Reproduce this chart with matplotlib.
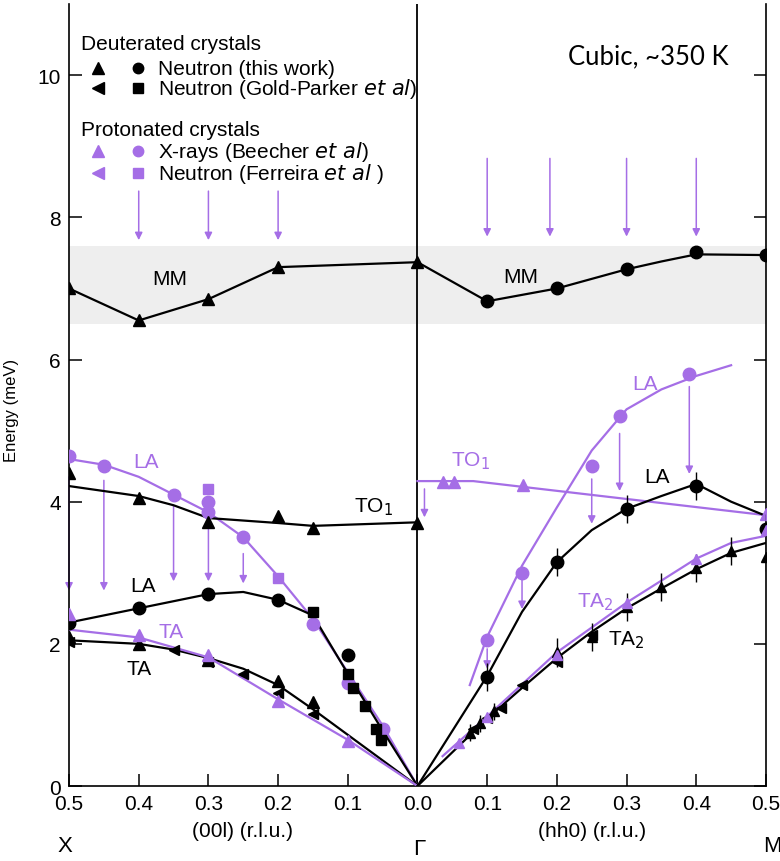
import matplotlib
matplotlib.use("Agg")
import matplotlib.pyplot as plt
import numpy as np
from matplotlib import font_manager

PURPLE = "#a56ee6"
BLACK = "black"

# ---------------- data (x<0 : (00l) branch, x>0 : (hh0) branch) ----------------
mm_left_x = [-0.5, -0.4, -0.3, -0.2, 0.0]
mm_left_y = [7.0, 6.55, 6.85, 7.3, 7.37]
mm_right_x = [0.1, 0.2, 0.3, 0.4, 0.5]
mm_right_y = [6.82, 7.0, 7.28, 7.52, 7.47]
mm_line_right_x = [0.0, 0.1, 0.2, 0.3, 0.35, 0.4, 0.5]
mm_line_right_y = [7.37, 6.82, 7.0, 7.27, 7.38, 7.48, 7.47]

top_arrow_left_x = [-0.4, -0.3, -0.2]
top_arrow_left_y = (8.37, 7.68)
top_arrow_right_x = [0.1, 0.19, 0.3, 0.4]
top_arrow_right_y = (8.83, 7.73)

# left branch
la_p_left_x = [-0.5, -0.45, -0.35, -0.3, -0.3, -0.25, -0.15, -0.1, -0.05]
la_p_left_y = [4.65, 4.5, 4.1, 4.0, 3.85, 3.5, 2.28, 1.45, 0.8]
la_p_sq_x = [-0.3, -0.2]
la_p_sq_y = [4.18, 2.92]
la_p_line_left_x = [-0.5, -0.45, -0.4, -0.35, -0.3, -0.25, -0.2, -0.15, -0.1, -0.05, 0.0]
la_p_line_left_y = [4.6, 4.52, 4.35, 4.1, 3.85, 3.5, 2.95, 2.35, 1.6, 0.85, 0.0]

to1_left_x = [-0.5, -0.4, -0.3, -0.2, -0.15, 0.0]
to1_left_y = [4.4, 4.05, 3.72, 3.8, 3.63, 3.7]
to1_line_left_x = [-0.5, -0.4, -0.35, -0.3, -0.2, -0.15, 0.0]
to1_line_left_y = [4.22, 4.08, 3.95, 3.77, 3.7, 3.66, 3.71]

la_left_x = [-0.5, -0.4, -0.3, -0.2, -0.1]
la_left_y = [2.3, 2.5, 2.7, 2.62, 1.85]
la_line_left_x = [-0.5, -0.4, -0.3, -0.25, -0.2, -0.15, -0.1, -0.05, 0.0]
la_line_left_y = [2.3, 2.5, 2.7, 2.73, 2.62, 2.4, 1.58, 0.78, 0.0]

gp_sq_x = [-0.15, -0.1, -0.092, -0.076, -0.059, -0.052]
gp_sq_y = [2.45, 1.58, 1.38, 1.12, 0.8, 0.65]

ta_left_x = [-0.5, -0.4, -0.3, -0.2, -0.15]
ta_left_y = [2.1, 2.0, 1.77, 1.48, 1.18]
gp_lt_left_x = [-0.5, -0.35, -0.3, -0.25, -0.2, -0.15]
gp_lt_left_y = [2.03, 1.92, 1.75, 1.58, 1.31, 1.01]
ta_line_left_x = [-0.5, -0.4, -0.35, -0.3, -0.25, -0.2, -0.15, -0.1, 0.0]
ta_line_left_y = [2.05, 2.0, 1.92, 1.8, 1.65, 1.42, 1.08, 0.72, 0.0]

ta_p_left_x = [-0.5, -0.4, -0.3, -0.2, -0.1]
ta_p_left_y = [2.42, 2.12, 1.85, 1.2, 0.63]
ta_p_line_left_x = [-0.5, -0.4, -0.3, -0.2, -0.1, 0.0]
ta_p_line_left_y = [2.2, 2.09, 1.81, 1.22, 0.65, 0.0]

arrow_left_x = [-0.5, -0.45, -0.35, -0.3, -0.25]
arrow_left_start = [4.35, 4.3, 3.94, 3.66, 3.27]
arrow_left_end = [2.75, 2.75, 2.88, 2.88, 2.85]

# right branch
to1_p_right_x = [0.037, 0.052, 0.152, 0.5]
to1_p_right_y = [4.28, 4.28, 4.23, 3.82]
to1_p_line_x = [0.0, 0.08, 0.5]
to1_p_line_y = [4.29, 4.29, 3.81]
to1_arrow_x = [0.01]
to1_arrow_start = [4.18]
to1_arrow_end = [3.78]

la_p_right_x = [0.1, 0.15, 0.25, 0.29, 0.39]
la_p_right_y = [2.05, 3.0, 4.5, 5.2, 5.8]
la_p_line_right_x = [0.075, 0.1, 0.15, 0.2, 0.25, 0.3, 0.35, 0.4, 0.45]
la_p_line_right_y = [1.42, 2.1, 3.1, 3.92, 4.72, 5.3, 5.58, 5.77, 5.92]
arrow_right_x = [0.1, 0.15, 0.25, 0.29, 0.39]
arrow_right_start = [1.93, 2.92, 4.32, 4.96, 5.62]
arrow_right_end = [1.65, 2.49, 3.69, 4.15, 4.39]

la_right_x = [0.1, 0.2, 0.3, 0.4, 0.5]
la_right_y = [1.53, 3.15, 3.9, 4.22, 3.62]
la_right_err = [0.2, 0.2, 0.2, 0.2, 0.2]
la_line_right_x = [0.0, 0.1, 0.15, 0.2, 0.25, 0.3, 0.35, 0.4, 0.45, 0.5]
la_line_right_y = [0.0, 1.55, 2.45, 3.15, 3.6, 3.9, 4.08, 4.25, 4.0, 3.8]

ta2_right_x = [0.075, 0.09, 0.11, 0.2, 0.25, 0.3, 0.35, 0.4, 0.45, 0.5]
ta2_right_y = [0.75, 0.88, 1.05, 1.88, 2.1, 2.52, 2.8, 3.07, 3.31, 3.22]
ta2_right_err = [0.12, 0.12, 0.12, 0.2, 0.2, 0.2, 0.2, 0.2, 0.2, 0.2]
gp_lt_right_x = [0.08, 0.1, 0.12, 0.15, 0.2, 0.25]
gp_lt_right_y = [0.8, 0.95, 1.1, 1.42, 1.75, 2.12]
ta2_line_x = [0.0, 0.1, 0.15, 0.2, 0.25, 0.3, 0.35, 0.4, 0.45, 0.5]
ta2_line_y = [0.0, 0.95, 1.38, 1.8, 2.17, 2.5, 2.78, 3.05, 3.28, 3.42]

ta2_p_x = [0.06, 0.1, 0.2, 0.3, 0.4, 0.5]
ta2_p_y = [0.6, 0.97, 1.85, 2.57, 3.2, 3.6]
ta2_p_line_x = [0.036, 0.1, 0.2, 0.3, 0.4, 0.45, 0.5]
ta2_p_line_y = [0.42, 0.98, 1.88, 2.58, 3.2, 3.42, 3.52]

x_ticks = [-0.5, -0.4, -0.3, -0.2, -0.1, 0.0, 0.1, 0.2, 0.3, 0.4, 0.5]
x_ticklabels = ["0.5", "0.4", "0.3", "0.2", "0.1", "0.0", "0.1", "0.2", "0.3", "0.4", "0.5"]
y_ticks = [0, 2, 4, 6, 8, 10]
band = (6.5, 7.6)

# ---------------- fonts ----------------
avail = {f.name for f in font_manager.fontManager.ttflist}
narrow = "Liberation Sans Narrow" if "Liberation Sans Narrow" in avail else "Liberation Sans"
plt.rcParams["font.family"] = ["Liberation Sans", "DejaVu Sans"]

fig = plt.figure(figsize=(7.8, 8.62), dpi=100)
ax = fig.add_axes([0.0885, 0.087, 0.8935, 0.907])
ax.set_xlim(-0.5, 0.5)
ax.set_ylim(0, 11)

ax.axhspan(band[0], band[1], color="#eeeeee", zorder=0, lw=0)
ax.axvline(0, color="black", lw=1.3, zorder=1)

LW = 1.6
MS = 9

def arrows(xs, y0s, y1s):
    for x, a, b in zip(xs, y0s, y1s):
        ax.annotate("", xy=(x, b), xytext=(x, a),
                    arrowprops=dict(arrowstyle="-|>", color=PURPLE, lw=1.1,
                                    mutation_scale=11, shrinkA=0, shrinkB=0), zorder=2)

# MM
ax.plot(mm_left_x, mm_left_y, color=BLACK, lw=LW, zorder=3)
ax.plot(mm_left_x, mm_left_y, "^", color=BLACK, ms=MS, zorder=4)
ax.plot(mm_line_right_x, mm_line_right_y, color=BLACK, lw=LW, zorder=3)
ax.plot(mm_right_x, mm_right_y, "o", color=BLACK, ms=MS, zorder=4)
arrows(top_arrow_left_x, [top_arrow_left_y[0]] * 3, [top_arrow_left_y[1]] * 3)
arrows(top_arrow_right_x, [top_arrow_right_y[0]] * 4, [top_arrow_right_y[1]] * 4)

# left lines
ax.plot(la_p_line_left_x, la_p_line_left_y, color=PURPLE, lw=LW, zorder=3)
ax.plot(to1_line_left_x, to1_line_left_y, color=BLACK, lw=LW, zorder=3)
ax.plot(la_line_left_x, la_line_left_y, color=BLACK, lw=LW, zorder=3)
ax.plot(ta_line_left_x, ta_line_left_y, color=BLACK, lw=LW, zorder=3)
ax.plot(ta_p_line_left_x, ta_p_line_left_y, color=PURPLE, lw=LW, zorder=3)
arrows(arrow_left_x, arrow_left_start, arrow_left_end)

ax.plot(la_p_left_x, la_p_left_y, "o", color=PURPLE, ms=MS, zorder=4)
ax.plot(la_p_sq_x, la_p_sq_y, "s", color=PURPLE, ms=7.5, zorder=4)
ax.plot(to1_left_x, to1_left_y, "^", color=BLACK, ms=MS, zorder=4)
ax.plot(la_left_x, la_left_y, "o", color=BLACK, ms=MS, zorder=4)
ax.plot(gp_sq_x, gp_sq_y, "s", color=BLACK, ms=7.5, zorder=4)
ax.plot(ta_left_x, ta_left_y, "^", color=BLACK, ms=MS, zorder=4)
ax.plot(gp_lt_left_x, gp_lt_left_y, "<", color=BLACK, ms=7.5, zorder=4)
ax.plot(ta_p_left_x, ta_p_left_y, "^", color=PURPLE, ms=MS, zorder=5)

# right lines
ax.plot(to1_p_line_x, to1_p_line_y, color=PURPLE, lw=LW, zorder=3)
ax.plot(la_p_line_right_x, la_p_line_right_y, color=PURPLE, lw=LW, zorder=3)
ax.plot(la_line_right_x, la_line_right_y, color=BLACK, lw=LW, zorder=3)
ax.plot(ta2_line_x, ta2_line_y, color=BLACK, lw=LW, zorder=3)
ax.plot(ta2_p_line_x, ta2_p_line_y, color=PURPLE, lw=LW, zorder=3)
arrows(to1_arrow_x, to1_arrow_start, to1_arrow_end)
arrows(arrow_right_x, arrow_right_start, arrow_right_end)

ax.plot(to1_p_right_x, to1_p_right_y, "^", color=PURPLE, ms=MS, zorder=4)
ax.plot(la_p_right_x, la_p_right_y, "o", color=PURPLE, ms=MS, zorder=4)
ax.errorbar(la_right_x, la_right_y, yerr=la_right_err, fmt="o", color=BLACK, ms=MS,
            elinewidth=1.0, capsize=0, zorder=4)
ax.errorbar(ta2_right_x, ta2_right_y, yerr=ta2_right_err, fmt="^", color=BLACK, ms=7.5,
            elinewidth=1.0, capsize=0, zorder=4)
ax.plot(gp_lt_right_x, gp_lt_right_y, "<", color=BLACK, ms=6.5, zorder=4)
ax.plot(ta2_p_x, ta2_p_y, "^", color=PURPLE, ms=7.5, zorder=5)

# branch labels
fs_lab = 15
ax.text(-0.355, 7.14, "MM", fontsize=fs_lab, ha="center", va="center")
ax.text(0.148, 7.17, "MM", fontsize=fs_lab, ha="center", va="center")
ax.text(-0.39, 4.56, "LA", fontsize=fs_lab, color=PURPLE, ha="center", va="center")
ax.text(-0.063, 3.94, "TO$_1$", fontsize=fs_lab, ha="center", va="center")
ax.text(-0.394, 2.82, "LA", fontsize=fs_lab, ha="center", va="center")
ax.text(-0.354, 2.18, "TA", fontsize=fs_lab, color=PURPLE, ha="center", va="center")
ax.text(-0.4, 1.65, "TA", fontsize=fs_lab, ha="center", va="center")
ax.text(0.076, 4.58, "TO$_1$", fontsize=fs_lab, color=PURPLE, ha="center", va="center")
ax.text(0.327, 5.67, "LA", fontsize=fs_lab, color=PURPLE, ha="center", va="center")
ax.text(0.344, 4.35, "LA", fontsize=fs_lab, ha="center", va="center")
ax.text(0.255, 2.6, "TA$_2$", fontsize=fs_lab, color=PURPLE, ha="center", va="center")
ax.text(0.3, 2.07, "TA$_2$", fontsize=fs_lab, ha="center", va="center")

# legend (manual)
fs_leg = 15
ax.text(-0.483, 10.45, "Deuterated crystals", fontsize=fs_leg, va="center")
ax.plot([-0.459], [10.1], "^", color=BLACK, ms=8)
ax.plot([-0.401], [10.1], "o", color=BLACK, ms=7.5)
ax.text(-0.372, 10.1, "Neutron (this work)", fontsize=fs_leg, va="center")
ax.plot([-0.459], [9.82], "<", color=BLACK, ms=8)
ax.plot([-0.401], [9.82], "s", color=BLACK, ms=6.5)
ax.text(-0.372, 9.82, "Neutron (Gold-Parker $\\it{et\\ al}$)", fontsize=fs_leg, va="center")
ax.text(-0.483, 9.24, "Protonated crystals", fontsize=fs_leg, va="center")
ax.plot([-0.459], [8.93], "^", color=PURPLE, ms=8)
ax.plot([-0.401], [8.93], "o", color=PURPLE, ms=7.5)
ax.text(-0.372, 8.93, "X-rays (Beecher $\\it{et\\ al}$)", fontsize=fs_leg, va="center")
ax.plot([-0.459], [8.62], "<", color=PURPLE, ms=8)
ax.plot([-0.401], [8.62], "s", color=PURPLE, ms=6.5)
ax.text(-0.372, 8.62, "Neutron (Ferreira $\\it{et\\ al}$ )", fontsize=fs_leg, va="center")

ax.text(0.331, 10.28, "Cubic, ~350 K", fontsize=18.5, family=["Lato", "DejaVu Sans"],
        ha="center", va="center")

# axes styling
ax.spines["top"].set_visible(False)
for s in ("left", "right", "bottom"):
    ax.spines[s].set_linewidth(1.2)
ax.set_xticks(x_ticks)
ax.set_xticklabels(x_ticklabels, fontsize=15, family=[narrow, "Liberation Sans"])
ax.set_yticks(y_ticks)
ax.set_yticklabels([str(v) for v in y_ticks], fontsize=15, family=[narrow, "Liberation Sans"])
ax.tick_params(axis="both", direction="in", length=9, width=1.1, pad=6)
ax.tick_params(axis="y", right=True)

fig.text(12 / 780, 1 - 410 / 862, "Energy (meV)", fontsize=12, rotation=90,
         ha="center", va="center")
fig.text(243 / 780, 1 - 832 / 862, "(00l) (r.l.u.)", fontsize=15, ha="center", va="center",
         family=[narrow, "Liberation Sans"])
fig.text(592 / 780, 1 - 832 / 862, "(hh0) (r.l.u.)", fontsize=15, ha="center", va="center",
         family=[narrow, "Liberation Sans"])
fig.text(65 / 780, 1 - 847 / 862, "X", fontsize=16, ha="center", va="center")
fig.text(419 / 780, 1 - 850 / 862, "Γ", fontsize=16, ha="center", va="center")
fig.text(772 / 780, 1 - 847 / 862, "M", fontsize=16, ha="center", va="center")

fig.savefig("out.png", dpi=100)
